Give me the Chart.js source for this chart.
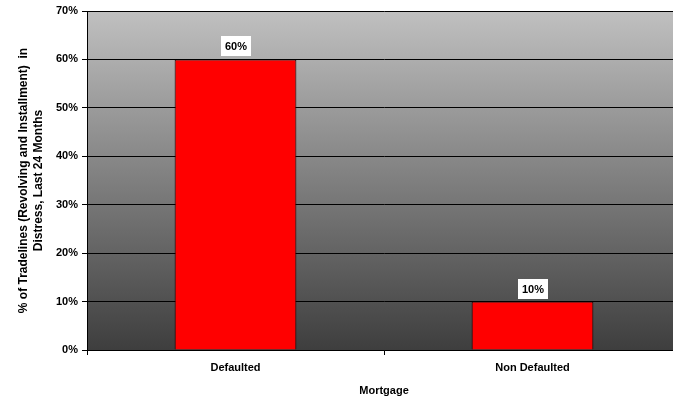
<!DOCTYPE html>
<html>
<head>
<meta charset="utf-8">
<script src="https://cdn.jsdelivr.net/npm/chart.js@4.4.0/dist/chart.umd.min.js"></script>
<style>
  html, body { margin:0; padding:0; background:#fff; overflow:hidden; }
  /* plot runs slightly past the right edge, as in the original */
  #wrap { width:673px; height:398px; overflow:hidden; }
</style>
</head>
<body>
<div id="wrap"><canvas id="chart" width="681" height="398"></canvas></div>
<script>
// ==== data ====
const categories = ['Defaulted', 'Non Defaulted'];
const shareInDistress = [60, 10];
const yTicks = [0, 10, 20, 30, 40, 50, 60, 70];

const FONT = 'Liberation Sans, Arial, sans-serif';

// gradient behind the plot area
const plotBackground = {
  id: 'plotBackground',
  beforeDraw(chart){
    const {ctx, chartArea:a} = chart;
    const g = ctx.createLinearGradient(0, a.top, 0, a.bottom);
    g.addColorStop(0, '#c0c0c0');
    g.addColorStop(1, '#3e3e3e');
    ctx.save();
    ctx.fillStyle = g;
    ctx.fillRect(a.left, a.top, a.right - a.left, a.bottom - a.top);
    ctx.restore();
  }
};

// white boxed value labels above bars
const valueLabels = {
  id: 'valueLabels',
  afterDatasetsDraw(chart){
    const {ctx} = chart;
    const meta = chart.getDatasetMeta(0);
    ctx.save();
    ctx.font = 'bold 11px ' + FONT;
    ctx.textAlign = 'center';
    ctx.textBaseline = 'middle';
    meta.data.forEach((bar, i) => {
      const txt = shareInDistress[i] + '%';
      const w = Math.round(ctx.measureText(txt).width + 8);
      const bottom = Math.round(bar.y) - 3;
      const x0 = Math.round(bar.x - w/2);
      ctx.fillStyle = '#fff';
      ctx.fillRect(x0, bottom - 20, w, 20);
      ctx.fillStyle = '#000';
      ctx.fillText(txt, x0 + w/2, bottom - 9.5);
    });
    ctx.restore();
  }
};

new Chart(document.getElementById('chart'), {
  type: 'bar',
  data: {
    labels: categories,
    datasets: [{
      data: shareInDistress,
      backgroundColor: '#ff0000',
      borderColor: '#000',
      borderWidth: 1,
      borderSkipped: 'bottom',
      barPercentage: 0.41,
      categoryPercentage: 1
    }]
  },
  options: {
    responsive: false,
    animation: false,
    layout: { padding: { top: 11, right: 0, left: 16, bottom: 0 } },
    plugins: { legend: { display: false }, tooltip: { enabled: false } },
    scales: {
      x: {
        offset: true,
        grid: { offset: true, drawOnChartArea: false, color: '#000', tickLength: 5, lineWidth: 1 },
        border: { color: '#000', width: 1 },
        ticks: { color: '#000', font: { family: FONT, size: 11, weight: 'bold' }, padding: 6 },
        title: { display: true, text: 'Mortgage', color: '#000', font: { family: FONT, size: 11, weight: 'bold' }, padding: { top: 6, bottom: 0 } },
        afterFit(s){ s.height = 48; }
      },
      y: {
        min: 0, max: 70,
        afterBuildTicks(s){ s.ticks = yTicks.map(v => ({ value: v })); },
        grid: { color: '#000', tickLength: 5, lineWidth: 1 },
        border: { color: '#000', width: 1 },
        ticks: { color: '#000', font: { family: FONT, size: 11, weight: 'bold' }, padding: 4, callback: v => v + '%' },
        title: { display: true, text: ['% of Tradelines (Revolving and Installment)  in', 'Distress, Last 24 Months'], color: '#000', font: { family: FONT, size: 12, weight: 'bold', lineHeight: 1.25 }, padding: { top: 0, bottom: 4 } },
        afterFit(s){ s.width = 71; }
      }
    }
  },
  plugins: [plotBackground, valueLabels]
});
</script>
</body>
</html>
